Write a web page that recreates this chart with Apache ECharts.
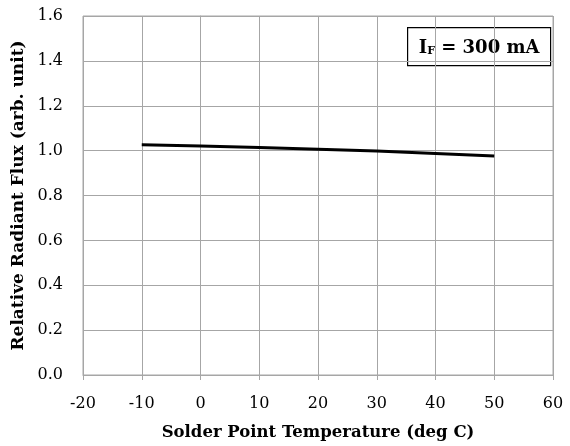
<!DOCTYPE html>
<html><head><meta charset="utf-8">
<script src="https://cdn.jsdelivr.net/npm/echarts@6/dist/echarts.min.js"></script>
<style>html,body{margin:0;padding:0;background:#fff}#c{width:570px;height:446px}</style>
</head><body><div id="c"></div>
<script>
const temps = [-10, 0, 10, 20, 30, 40, 50];
const flux = [1.026, 1.021, 1.014, 1.006, 0.998, 0.987, 0.976];
const xName = 'Solder Point Temperature (deg C)';
const yName = 'Relative Radiant Flux (arb. unit)';
const legendMain = 'I';
const legendSub = 'F';
const legendRest = ' = 300 mA';
const FONT = 'DejaVu Serif';
const GRID = '#a6a6a6';
const chart = echarts.init(document.getElementById('c'));
chart.setOption({
  animation: false,
  backgroundColor: '#fff',
  grid: {left: 83, right: 17, top: 16, bottom: 71, show: true, borderColor: GRID, borderWidth: 1},
  xAxis: {
    type: 'value', min: -20, max: 60, interval: 10,
    name: xName, nameLocation: 'middle', nameGap: 49,
    nameTextStyle: {fontFamily: FONT, fontWeight: 'bold', fontSize: 16.5, color: '#000'},
    axisLine: {show: true, lineStyle: {color: GRID}},
    axisTick: {show: true, inside: false, length: 5, lineStyle: {color: GRID}},
    axisLabel: {fontFamily: FONT, fontSize: 16, color: '#000', margin: 21, formatter: v => String(v)},
    splitLine: {show: true, lineStyle: {color: GRID, width: 1}}
  },
  yAxis: {
    type: 'value', min: 0, max: 1.6, interval: 0.2,
    name: yName, nameLocation: 'middle', nameGap: 56, nameRotate: 90,
    nameTextStyle: {fontFamily: FONT, fontWeight: 'bold', fontSize: 17, color: '#000'},
    axisLine: {show: true, lineStyle: {color: GRID}},
    axisTick: {show: true, inside: false, length: 8, lineStyle: {color: GRID}},
    axisLabel: {fontFamily: FONT, fontSize: 16, color: '#000', margin: 20, formatter: v => v.toFixed(1)},
    splitLine: {show: true, lineStyle: {color: GRID, width: 1}}
  },
  series: [{
    type: 'line', data: temps.map((t, i) => [t, flux[i]]),
    showSymbol: false, smooth: false,
    lineStyle: {color: '#000', width: 3}
  }],
  graphic: [{
    type: 'group', left: 407, top: 27,
    children: [
      {type: 'rect', shape: {x: 0, y: 0, width: 143, height: 38}, style: {fill: '#fff', stroke: '#000', lineWidth: 1.2}},
      {type: 'text', x: 71.5, y: 19.5, style: {
        text: '{m|' + legendMain + '}{s|' + legendSub + '}{m|' + legendRest + '}',
        align: 'center', verticalAlign: 'middle',
        rich: {
          m: {fontFamily: FONT, fontWeight: 'bold', fontSize: 18, lineHeight: 20, fill: '#000', verticalAlign: 'bottom'},
          s: {fontFamily: FONT, fontWeight: 'bold', fontSize: 11, lineHeight: 11, fill: '#000', verticalAlign: 'bottom'}
        }
      }}
    ]
  }]
});
</script></body></html>
